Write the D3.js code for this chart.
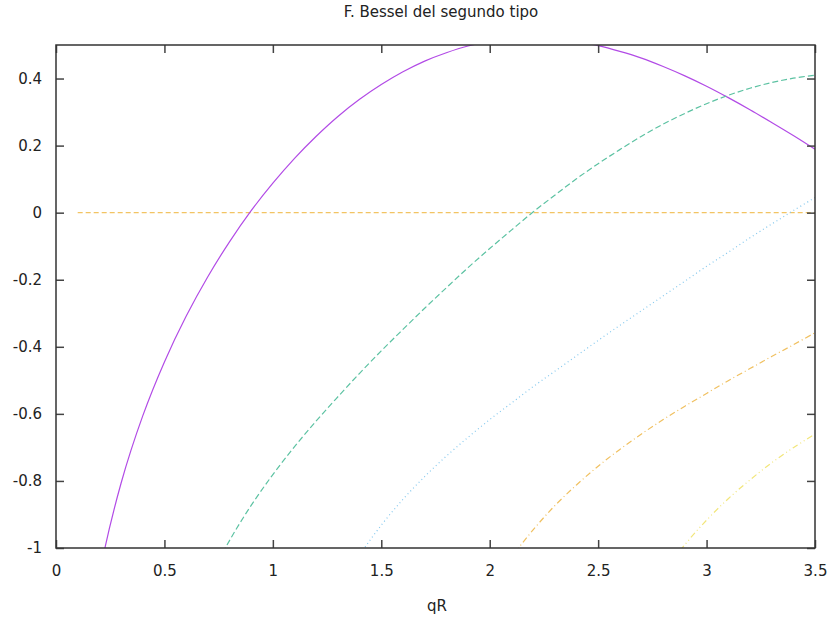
<!DOCTYPE html>
<html>
<head>
<meta charset="utf-8">
<script src="https://cdn.jsdelivr.net/npm/d3@7"></script>
<style>
  body { margin: 0; background: #fff; }
  text { font-family: "DejaVu Sans", sans-serif; fill: #222; }
</style>
</head>
<body>
<script>
// valores
const xs0 = [0.1, 0.2, 0.3, 0.4, 0.5, 0.6, 0.7, 0.8, 0.9, 1.0, 1.1, 1.2, 1.3, 1.4, 1.5, 1.6, 1.7, 1.8,
             1.9, 2.0, 2.1, 2.2, 2.3, 2.4, 2.5, 2.6, 2.7, 2.8, 2.9, 3.0, 3.1, 3.2, 3.3, 3.4, 3.5];
const y0 = [-1.534, -1.081, -0.807, -0.606, -0.445, -0.309, -0.191, -0.087, 0.006, 0.088, 0.162, 0.228,
            0.287, 0.338, 0.382, 0.420, 0.452, 0.477, 0.497, 0.510, 0.518, 0.521, 0.518, 0.510, 0.498,
            0.481, 0.461, 0.436, 0.408, 0.377, 0.343, 0.307, 0.269, 0.230, 0.189];

const xs1 = [0.6, 0.7, 0.8, 0.9, 1.0, 1.1, 1.2, 1.3, 1.4, 1.5, 1.6, 1.7, 1.8, 1.9, 2.0, 2.1, 2.2, 2.3,
             2.4, 2.5, 2.6, 2.7, 2.8, 2.9, 3.0, 3.1, 3.2, 3.3, 3.4, 3.5];
const y1 = [-1.260, -1.103, -0.978, -0.873, -0.781, -0.698, -0.621, -0.549, -0.479, -0.412, -0.348,
            -0.285, -0.224, -0.164, -0.107, -0.052, 0.002, 0.052, 0.101, 0.146, 0.188, 0.228, 0.264,
            0.296, 0.325, 0.350, 0.371, 0.388, 0.401, 0.410];

const xs2 = [1.3, 1.4, 1.5, 1.6, 1.7, 1.8, 1.9, 2.0, 2.1, 2.2, 2.3, 2.4, 2.5, 2.6, 2.7, 2.8, 2.9, 3.0,
             3.1, 3.2, 3.3, 3.4, 3.5];
const y2 = [-1.130, -1.022, -0.932, -0.855, -0.787, -0.726, -0.670, -0.617, -0.568, -0.519, -0.473,
            -0.427, -0.381, -0.336, -0.292, -0.248, -0.204, -0.160, -0.118, -0.075, -0.034, 0.006, 0.045];

const xs3 = [1.9, 2.0, 2.1, 2.2, 2.3, 2.4, 2.5, 2.6, 2.7, 2.8, 2.9, 3.0, 3.1, 3.2, 3.3, 3.4, 3.5];
const y3 = [-1.246, -1.128, -1.029, -0.946, -0.874, -0.812, -0.756, -0.706, -0.660, -0.617, -0.577,
            -0.539, -0.501, -0.465, -0.429, -0.394, -0.358];

const xs4 = [2.7, 2.8, 2.9, 3.0, 3.1, 3.2, 3.3, 3.4, 3.5];
const y4 = [-1.175, -1.075, -0.990, -0.917, -0.853, -0.797, -0.746, -0.701, -0.660];

const zeroX = [0.1, 3.5];
const zeroY = [0, 0];

const xTicks = [0, 0.5, 1, 1.5, 2, 2.5, 3, 3.5];
const yTicks = [-1, -0.8, -0.6, -0.4, -0.2, 0, 0.2, 0.4];

const width = 833, height = 619;
const margin = { left: 56, right: 18, top: 45, bottom: 71 };

const svg = d3.select("body").append("svg")
    .attr("width", width)
    .attr("height", height);

const x = d3.scaleLinear().domain([0, 3.5]).range([margin.left, width - margin.right]);
const y = d3.scaleLinear().domain([-1, 0.5]).range([height - margin.bottom, margin.top]);

svg.append("defs").append("clipPath").attr("id", "clip")
  .append("rect")
    .attr("x", x(0)).attr("y", y(0.5))
    .attr("width", x(3.5) - x(0)).attr("height", y(-1) - y(0.5));

// series: color + dash
const series = [
    { xs: zeroX, ys: zeroY, color: "#f2c463", dash: "5,3" },
    { xs: xs0, ys: y0, color: "#b24be6", dash: null },
    { xs: xs1, ys: y1, color: "#5cc2a2", dash: "6,3" },
    { xs: xs2, ys: y2, color: "#84c8ee", dash: "1,3" },
    { xs: xs3, ys: y3, color: "#f0c060", dash: "6,3,1,3" },
    { xs: xs4, ys: y4, color: "#f2e67a", dash: "6,3,1,3,1,3" }
];

const line = d3.line()
    .x(d => x(d[0]))
    .y(d => y(d[1]))
    .curve(d3.curveCatmullRom);

const plot = svg.append("g").attr("clip-path", "url(#clip)");

plot.selectAll("path")
    .data(series)
    .enter().append("path")
    .attr("d", s => line(s.xs.map((v, i) => [v, s.ys[i]])))
    .attr("fill", "none")
    .attr("stroke", s => s.color)
    .attr("stroke-width", 1.2)
    .attr("stroke-dasharray", s => s.dash);

// ejes con ticks hacia adentro (espejo arriba y derecha)
const tickLen = 8;
const fmt = d => String(d);

const xAxis = svg.append("g")
    .attr("transform", `translate(0,${y(-1)})`)
    .call(d3.axisBottom(x).tickValues(xTicks).tickSize(-tickLen).tickPadding(17).tickFormat(fmt));
const xAxisTop = svg.append("g")
    .attr("transform", `translate(0,${y(0.5)})`)
    .call(d3.axisTop(x).tickValues(xTicks).tickSize(-tickLen).tickFormat(""));
const yAxis = svg.append("g")
    .attr("transform", `translate(${x(0)},0)`)
    .call(d3.axisLeft(y).tickValues(yTicks).tickSize(-tickLen).tickPadding(14).tickFormat(fmt));
const yAxisRight = svg.append("g")
    .attr("transform", `translate(${x(3.5)},0)`)
    .call(d3.axisRight(y).tickValues(yTicks).tickSize(-tickLen).tickFormat(""));

[xAxis, xAxisTop, yAxis, yAxisRight].forEach(g => {
    g.select(".domain").remove();
    g.selectAll(".tick line").attr("stroke", "#444").attr("stroke-width", 1.5);
    g.selectAll("text").style("font-size", "15px").attr("fill", "#222");
});

svg.append("rect")
    .attr("x", x(0)).attr("y", y(0.5))
    .attr("width", x(3.5) - x(0)).attr("height", y(-1) - y(0.5))
    .attr("fill", "none")
    .attr("stroke", "#333")
    .attr("stroke-width", 1.5);

svg.append("text")
    .attr("x", 441).attr("y", 17)
    .attr("text-anchor", "middle")
    .style("font-size", "15px")
    .text("F. Bessel del segundo tipo");

svg.append("text")
    .attr("x", 437).attr("y", 611)
    .attr("text-anchor", "middle")
    .style("font-size", "15px")
    .text("qR");
</script>
</body>
</html>
